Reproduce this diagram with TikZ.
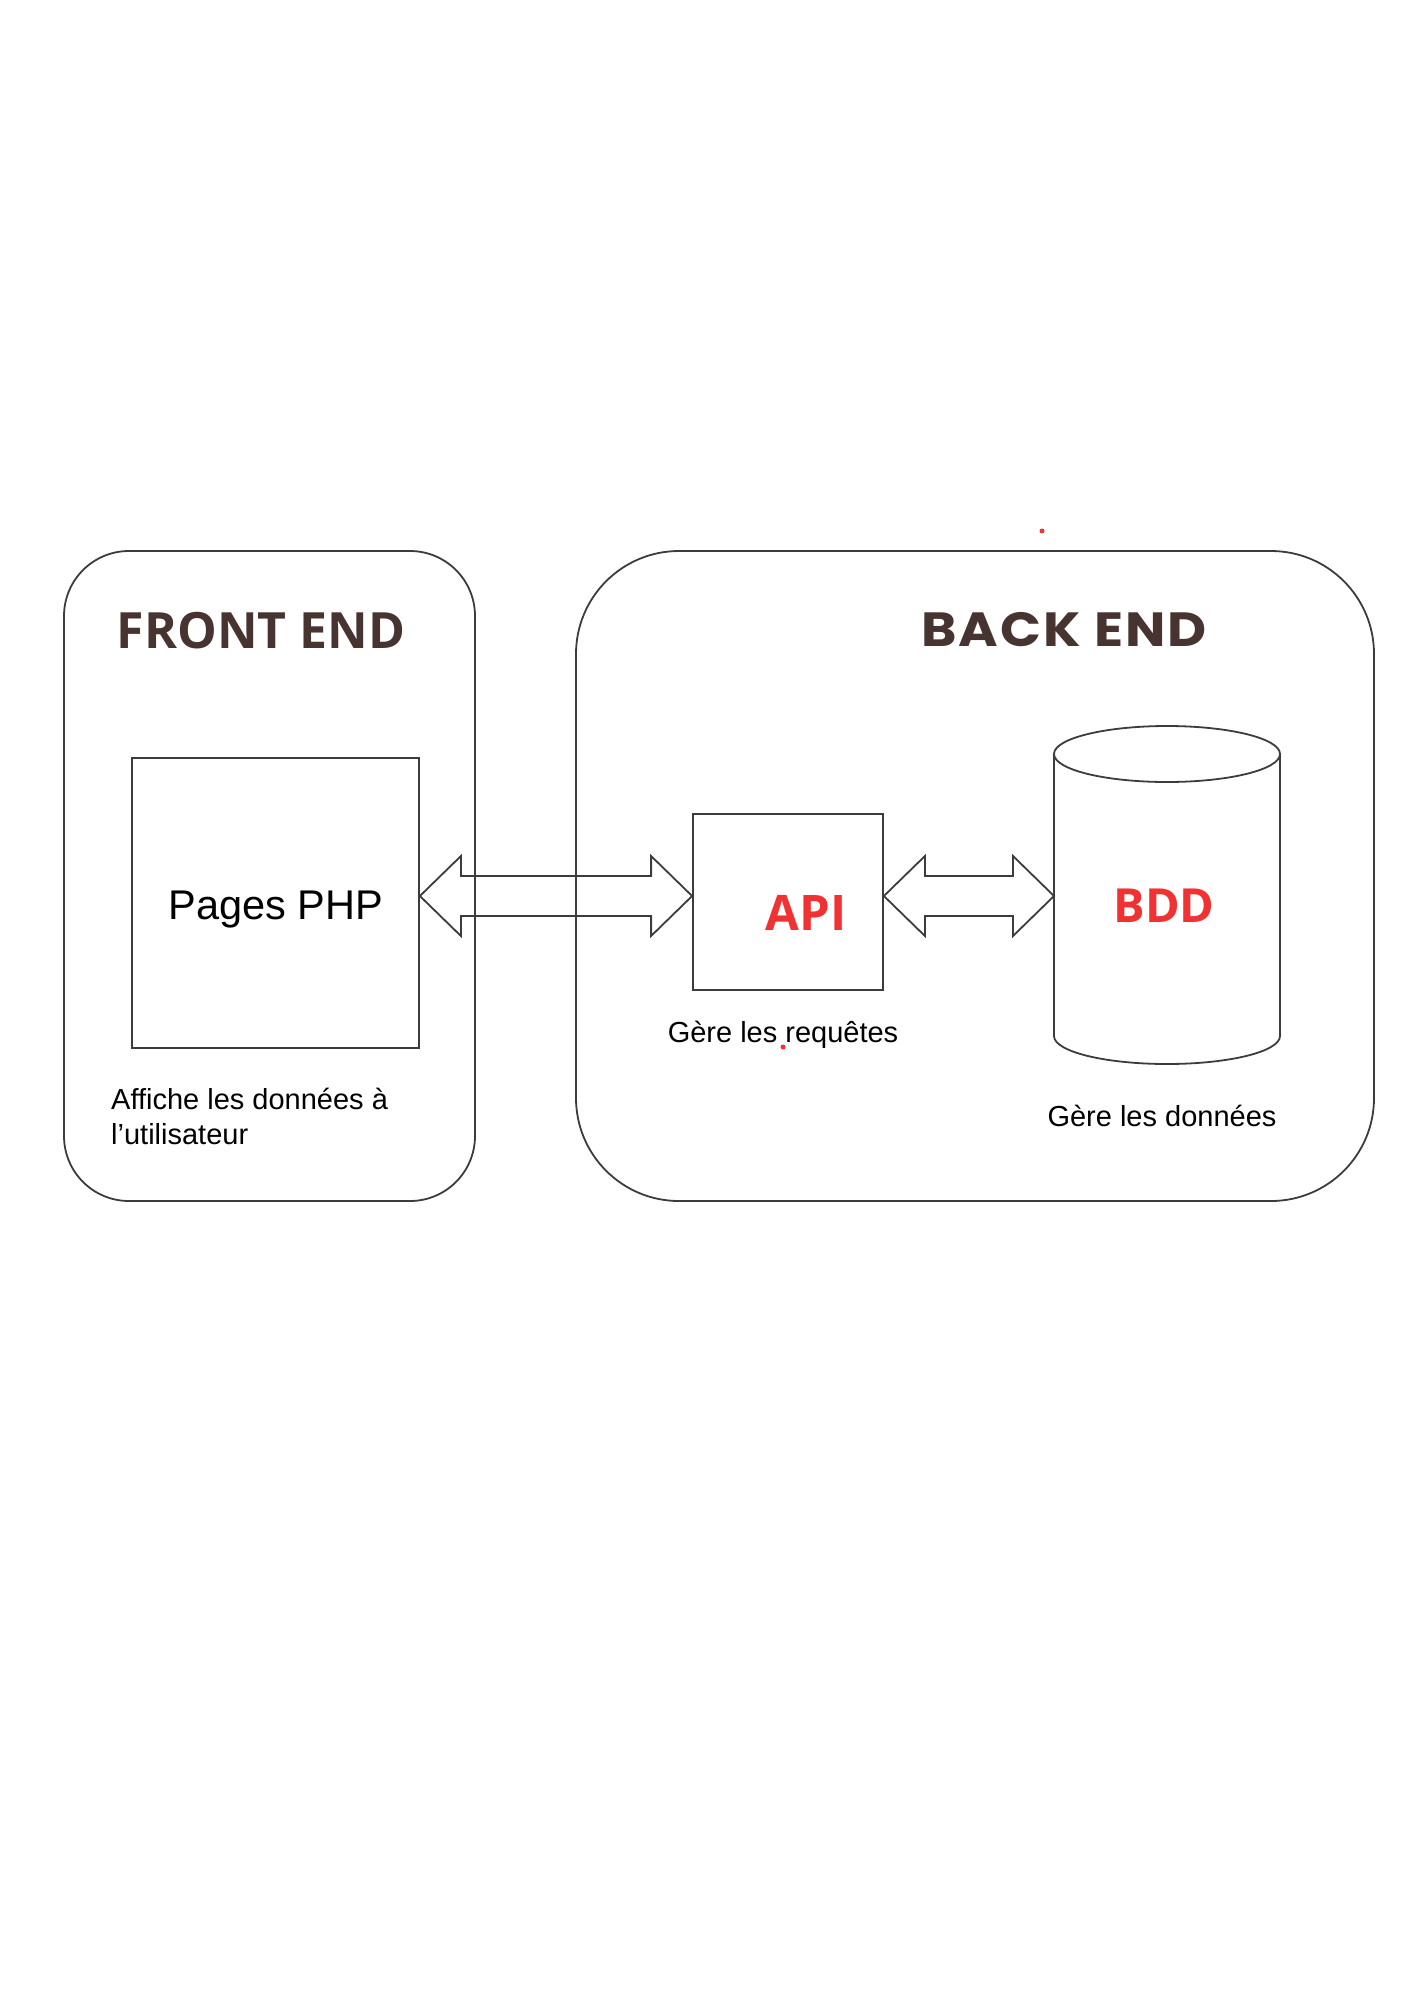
\documentclass[tikz,border=0pt]{standalone}
\usepackage{fontspec}
\setmainfont{Liberation Sans}
\newfontfamily\opensans{Open Sans}
\newfontfamily\poppins{Poppins}[FakeStretch=1.12, LetterSpace=4]
\usetikzlibrary{calc}
\definecolor{titlebrown}{RGB}{71,52,49}
\definecolor{labelred}{RGB}{240,50,50}
\definecolor{linegray}{RGB}{60,60,60}
\tikzset{
	outline/.style = {draw=linegray, line width=1.8pt},
	box/.style = {outline, inner sep=0pt},
	title/.style = {text=titlebrown, anchor=base, inner sep=0pt},
	redlabel/.style = {text=labelred, anchor=base, inner sep=0pt, font=\opensans\bfseries\fontsize{49}{58}\selectfont},
	note/.style = {anchor=base, inner sep=0pt, font=\fontsize{29}{35}\selectfont}
}
% double arrow between two tips
\newcommand{\dblarrow}[2]{%
	\draw[outline] (#1) -- ++(41,-40) -- ++(0,20) -- ($(#2)+(-41,-20)$) -- ++(0,-20) -- (#2)
		-- ++(-41,40) -- ++(0,-20) -- ($(#1)+(41,20)$) -- ++(0,20) -- cycle;}
\begin{document}
\begin{tikzpicture}[x = 1pt, y = -1pt]
		\useasboundingbox (0, 0) rectangle (1414, 2000);
		% frames
		\draw[outline, rounded corners = 65] (64, 551) rectangle (475, 1201);
		\draw[outline, rounded corners = 103] (576, 551) rectangle (1374, 1201);
		\node[title, font = \opensans\bfseries\fontsize{50}{60}\selectfont] (front) at (261, 648) {FRONT END};
		\node[title, font = \poppins\bfseries\fontsize{48}{58}\selectfont] (back) at (1064, 646) {BACK END};
		% front end
		\node[box, minimum width = 287, minimum height = 290] (pages) at (275.5, 903) {};
		\node[anchor = base, inner sep = 0pt, font = \fontsize{41.5}{48}\selectfont] (pagestext) at (276, 919) {Pages PHP};
		\node[anchor = north west, inner sep = 0pt, align = left, font = \fontsize{29}{35}\selectfont] (affiche) at (111, 1088) {Affiche les données à\\l’utilisateur};
		% back end
		\node[box, minimum width = 190, minimum height = 176] (api) at (788, 902) {};
		\node[redlabel] (apitext) at (806, 930) {API};
		\node[note] (requetes) at (783, 1042) {Gère les requêtes};
		\draw[outline] (1167, 754) ellipse (113 and 28);
		\draw[outline] (1054, 754) -- (1054, 1036) arc[start angle = 180, end angle = 0, x radius = 113, y radius = 28] -- (1280, 754);
		\coordinate (db) at (1054, 896);
		\node[redlabel, font = \opensans\bfseries\fontsize{47}{56}\selectfont] (bdd) at (1164, 922) {BDD};
		\node[note] (donnees) at (1162, 1126) {Gère les données};
		% arrows
		\dblarrow{[yshift = 7pt]pages.east}{[yshift = 6pt]api.west}
		\dblarrow{[yshift = 6pt]api.east}{db}
		% dots
		\fill[labelred] (1042, 531) circle[radius = 2.5];
		\fill[labelred] (783, 1047) circle[radius = 2.5];
	\end{tikzpicture}
\end{document}
